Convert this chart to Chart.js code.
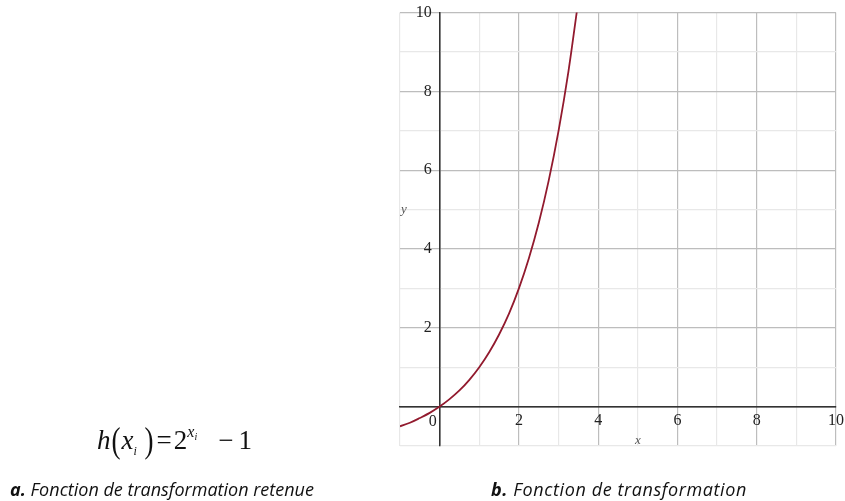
<!DOCTYPE html>
<html>
<head>
<meta charset="utf-8">
<script src="https://cdn.jsdelivr.net/npm/chart.js@4.4.0/dist/chart.umd.min.js"></script>
<style>
  body { margin: 0; background: #fff; overflow: hidden; }
  #wrap { position: relative; width: 845px; height: 501px; overflow: hidden; }
  #myChart { position: absolute; left: 0; top: 0; }
  .formula { position: absolute; left: 97px; top: 423px; font-family: "Liberation Serif", serif; font-size: 27px; color: #111; white-space: nowrap; }
  .formula i { font-style: italic; }
  .formula .par { display: inline-block; transform: scaleY(1.3); margin: 0 1px; }
  .formula sup { font-size: 16px; vertical-align: 12px; }
  .formula sup sub { font-size: 10px; vertical-align: -3px; }
  .formula > sub { font-size: 12px; vertical-align: -6px; }
  .formula .eq { margin: 0 2px 0 2px; }
  .formula .op { margin: 0 5px 0 21px; }
  .caption { position: absolute; top: 477px; font-family: "Open Sans", sans-serif; font-style: italic; font-size: 18px; color: #111; white-space: nowrap; }
  .caption b { font-weight: bold; }
</style>
</head>
<body>
<div id="wrap">
  <canvas id="myChart" width="849" height="501"></canvas>
  <div class="formula"><i>h</i><span class="par">(</span><i>x</i><sub><i>i</i></sub>&nbsp;<span class="par">)</span><span class="eq">=</span>2<sup><i>x<sub>i</sub></i></sup><span class="op">&minus;</span>1</div>
  <div class="caption" style="left:10px"><b>a.</b> Fonction de transformation retenue</div>
  <div class="caption" style="left:491px; letter-spacing:0.6px"><b>b.</b> Fonction de transformation</div>
</div>
<script>
// points read along the curve h(x)
const xs = [-1, -0.75, -0.5, -0.25, 0, 0.25, 0.5, 0.75, 1, 1.25, 1.5, 1.75, 2, 2.25, 2.5, 2.75, 3, 3.25, 3.5];
const ys = [-0.5, -0.41, -0.29, -0.16, 0, 0.19, 0.41, 0.68, 1, 1.38, 1.83, 2.36, 3, 3.76, 4.66, 5.73, 7, 8.51, 10.31];
const xTicks = [2, 4, 6, 8, 10];
const yTicks = [2, 4, 6, 8, 10];

function gridColor(ctx) {
  const v = ctx.tick ? ctx.tick.value : 0;
  if (v === 0) return '#333';
  return v % 2 === 0 ? '#bdbdbd' : '#e8e8e8';
}

// little axis names and the origin label
const axisNames = {
  id: 'axisNames',
  afterDraw(chart) {
    const c = chart.ctx;
    const sx = chart.scales.x, sy = chart.scales.y;
    c.save();
    c.fillStyle = '#222';
    c.font = '16px "Liberation Serif"';
    c.textAlign = 'right';
    c.textBaseline = 'middle';
    c.fillText('0', sx.getPixelForValue(0) - 3, sy.getPixelForValue(0) + 15);
    c.fillStyle = '#555';
    c.font = 'italic 13px "Liberation Serif"';
    c.textAlign = 'center';
    c.fillText('x', sx.getPixelForValue(5), sy.getPixelForValue(-0.85));
    c.fillText('y', sx.getPixelForValue(-0.9), sy.getPixelForValue(5));
    c.restore();
  }
};

const ctx = document.getElementById('myChart').getContext('2d');
const chart = new Chart(ctx, {
  type: 'line',
  data: {
    datasets: [{
      data: xs.map((x, i) => ({ x: x, y: ys[i] })),
      borderColor: '#921a2e',
      borderWidth: 1.8,
      pointRadius: 0,
      cubicInterpolationMode: 'monotone',
      fill: false
    }]
  },
  options: {
    responsive: false,
    animation: false,
    layout: { padding: { left: 400, top: 9, right: 6, bottom: 55 } },
    plugins: { legend: { display: false }, tooltip: { enabled: false } },
    scales: {
      x: {
        type: 'linear',
        min: -1, max: 10,
        position: { y: 0 },
        ticks: {
          stepSize: 1,
          autoSkip: false,
          maxRotation: 0,
          padding: 5,
          color: '#222',
          font: { family: 'Liberation Serif', size: 16 },
          callback: v => xTicks.includes(v) ? String(v) : ''
        },
        grid: { color: gridColor, lineWidth: 1.2, drawTicks: false },
        border: { color: '#333', width: 1.5 }
      },
      y: {
        type: 'linear',
        min: -1, max: 10,
        position: { x: 0 },
        ticks: {
          stepSize: 1,
          autoSkip: false,
          color: '#222',
          font: { family: 'Liberation Serif', size: 16 },
          // en space keeps the label clear of the axis line
          callback: v => yTicks.includes(v) ? String(v) + '\u2002' : ''
        },
        grid: { color: gridColor, lineWidth: 1.2, drawTicks: false },
        border: { color: '#333', width: 1.5 }
      }
    }
  },
  plugins: [axisNames]
});
</script>
</body>
</html>
